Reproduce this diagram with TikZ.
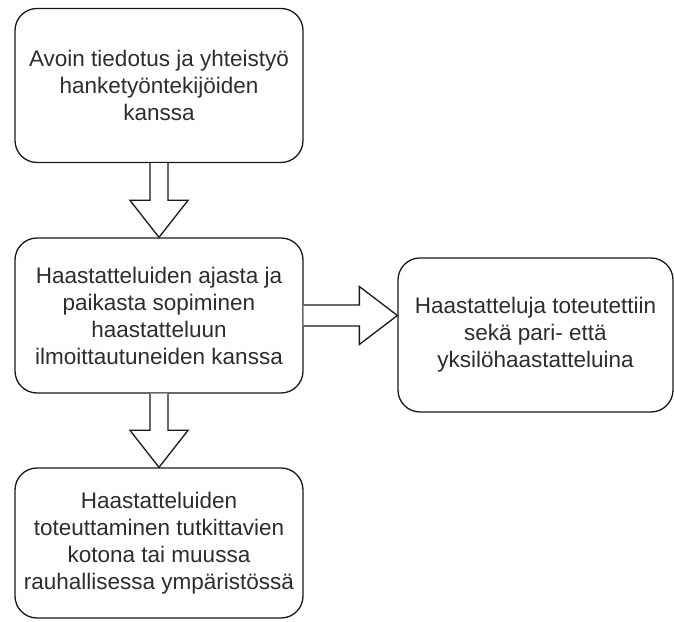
\documentclass[tikz,border=0pt]{standalone}
\usepackage{fontspec}
\setmainfont{Liberation Sans}
\usetikzlibrary{calc}

\begin{document}
\begin{tikzpicture}[x=1pt, y=1pt,
  flowbox/.style={draw=boxline, line width=1.3pt, rounded corners=22pt, fill=white,
    minimum width=288pt, minimum height=154pt, inner sep=0pt, align=center,
    text=boxtext, font=\fontsize{22.5}{27}\selectfont},
  fatarrow/.style={draw=boxline, line width=1.3pt, fill=white, line join=miter}]
  % Define colors
  \definecolor{boxline}{RGB}{25,25,25}
  \definecolor{boxtext}{RGB}{45,45,45}

  \useasboundingbox (0,0) rectangle (674,621);
  \fill[white] (0,0) rectangle (674,621);

  % Boxes
  \node[flowbox] (avoin) at (159,535.5)
    {Avoin tiedotus ja yhteistyö\\hanketyöntekijöiden\\kanssa};
  \node[flowbox, minimum height=155pt] (ajasta) at (159,305.5)
    {Haastatteluiden ajasta ja\\paikasta sopiminen\\haastatteluun\\ilmoittautuneiden kanssa};
  \node[flowbox, minimum width=275pt] (toteutettiin) at (535.5,286)
    {Haastatteluja toteutettiin\\sekä pari- että\\yksilöhaastatteluina};
  \node[flowbox, minimum height=150pt] (toteutus) at (159,78)
    {Haastatteluiden\\toteuttaminen tutkittavien\\kotona tai muussa\\rauhallisessa ympäristössä};

  % Down arrows
  \foreach \src/\dst in {avoin/ajasta, ajasta/toteutus} {
    \draw[fatarrow] ($(\src.south)+(-9,0)$) -- ($(\dst.north)+(-9,37)$) -- ++(-20,0)
      -- (\dst.north) -- ++(29,37) -- ++(-20,0) -- ($(\src.south)+(9,0)$);
  }

  % Right arrow
  \coordinate (tip) at (toteutettiin.west |- ajasta.east);
  \draw[fatarrow] ($(ajasta.east)+(0,10.5)$) -- ($(tip)+(-38,10.5)$) -- ++(0,18.5)
    -- (tip) -- ++(-38,-29) -- ++(0,18.5) -- ($(ajasta.east)+(0,-10.5)$);
\end{tikzpicture}
\end{document}
